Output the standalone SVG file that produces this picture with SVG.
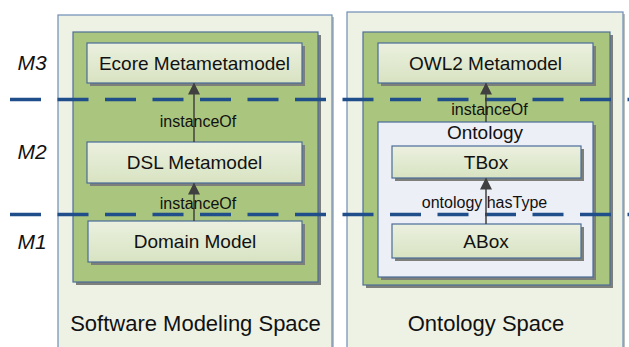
<svg xmlns="http://www.w3.org/2000/svg" width="629" height="347" viewBox="0 0 629 347">
  <defs>
    <linearGradient id="nodeFill" x1="0" y1="0" x2="0" y2="1">
      <stop offset="0" stop-color="#EBF0DF"/>
      <stop offset="1" stop-color="#D8E3C2"/>
    </linearGradient>
    <marker id="arrowHead" viewBox="0 0 12 12" refX="11" refY="6" markerWidth="12" markerHeight="12" markerUnits="userSpaceOnUse" orient="auto">
      <path d="M0,0 L12,6 L0,12 Z" fill="#404040"/>
    </marker>
    <style>
      .panel { fill: #EEF2E5; stroke: #6F8CB5; stroke-width: 1.2; }
      .panelShadow { fill: #BDC0BA; }
      .container { fill: #AAC57D; stroke: #4E6E96; stroke-width: 1.2; }
      .shadow { fill: #7D7F7A; }
      .node { fill: url(#nodeFill); stroke: #4A6B98; stroke-width: 1.2; }
      .ontology { fill: #ECEFF6; stroke: #4A6B98; stroke-width: 1.2; }
      .label { font-family: "Liberation Sans", Arial, sans-serif; fill: #111; text-anchor: middle; }
      .nodeText { font-size: 19px; }
      .edgeText { font-size: 16px; }
      .spaceText { font-size: 22px; }
      .level { font-family: "Liberation Sans", Arial, sans-serif; font-size: 21px; font-style: italic; fill: #111; text-anchor: middle; }
      .edge { stroke: #404040; stroke-width: 1.5; fill: none; marker-end: url(#arrowHead); }
      .levelLine { stroke: #1F4E8A; stroke-width: 3.3; stroke-dasharray: 31 16.5; fill: none; }
    </style>
  </defs>

  <!-- Software modeling space -->
  <g id="software-space">
    <rect class="panelShadow" x="60" y="17" width="274" height="340"/>
    <rect class="panel" x="58" y="15" width="274" height="340"/>
    <rect class="shadow" x="76" y="35" width="245" height="250"/>
    <rect class="container" x="73" y="32" width="245" height="250"/>
    <text class="label spaceText" x="195.5" y="331">Software Modeling Space</text>
  </g>

  <!-- Ontology space -->
  <g id="ontology-space">
    <rect class="panelShadow" x="349" y="14" width="276" height="340"/>
    <rect class="panel" x="347" y="12" width="276" height="340"/>
    <rect class="shadow" x="366" y="35" width="247" height="253"/>
    <rect class="container" x="363" y="32" width="247" height="253"/>
    <text class="label spaceText" x="486" y="331">Ontology Space</text>
  </g>

  <g id="ecore-metametamodel">
    <rect class="shadow" x="90" y="46" width="215" height="40"/>
    <rect class="node" x="87" y="43" width="215" height="40"/>
    <text class="label nodeText" x="194.5" y="69.5">Ecore Metametamodel</text>
  </g>

  <g id="dsl-metamodel">
    <rect class="shadow" x="90" y="145" width="215" height="41"/>
    <rect class="node" x="87" y="142" width="215" height="41"/>
    <text class="label nodeText" x="194.5" y="169">DSL Metamodel</text>
  </g>

  <g id="domain-model">
    <rect class="shadow" x="91" y="224" width="214" height="41"/>
    <rect class="node" x="88" y="221" width="214" height="41"/>
    <text class="label nodeText" x="195" y="248">Domain Model</text>
  </g>

  <g id="owl2-metamodel">
    <rect class="shadow" x="381" y="46" width="215" height="40"/>
    <rect class="node" x="378" y="43" width="215" height="40"/>
    <text class="label nodeText" x="485.5" y="70">OWL2 Metamodel</text>
  </g>

  <g id="ontology">
    <rect class="shadow" x="381" y="125" width="215" height="155"/>
    <rect class="ontology" x="378" y="122" width="215" height="155"/>
    <text class="label nodeText" x="485" y="139">Ontology</text>
  </g>

  <g id="tbox">
    <rect class="shadow" x="395" y="149" width="189" height="32"/>
    <rect class="node" x="392" y="146" width="189" height="32"/>
    <text class="label nodeText" x="486" y="169">TBox</text>
  </g>

  <g id="abox">
    <rect class="shadow" x="395" y="227" width="189" height="34"/>
    <rect class="node" x="392" y="224" width="189" height="34"/>
    <text class="label nodeText" x="486" y="248">ABox</text>
  </g>

  <!-- Metalevel separators -->
  <g id="level-lines">
    <line class="levelLine" x1="10" y1="99.5" x2="640" y2="99.5"/>
    <line class="levelLine" x1="10" y1="214.5" x2="640" y2="214.5"/>
  </g>

  <g id="levels">
    <text class="level" x="32" y="70">M3</text>
    <text class="level" x="32" y="159">M2</text>
    <text class="level" x="32" y="249">M1</text>
  </g>

  <g id="connectors">
    <line class="edge" x1="194" y1="142" x2="194" y2="83.5"/>
    <line class="edge" x1="194" y1="221" x2="194" y2="183.5"/>
    <line class="edge" x1="486" y1="122" x2="486" y2="83.5"/>
    <line class="edge" x1="486" y1="224" x2="486" y2="178.5"/>
    <text class="label edgeText" x="198" y="127">instanceOf</text>
    <text class="label edgeText" x="198" y="209">instanceOf</text>
    <text class="label edgeText" x="489.5" y="115">instanceOf</text>
    <text class="label edgeText" x="484.5" y="208">ontology hasType</text>
  </g>
</svg>
